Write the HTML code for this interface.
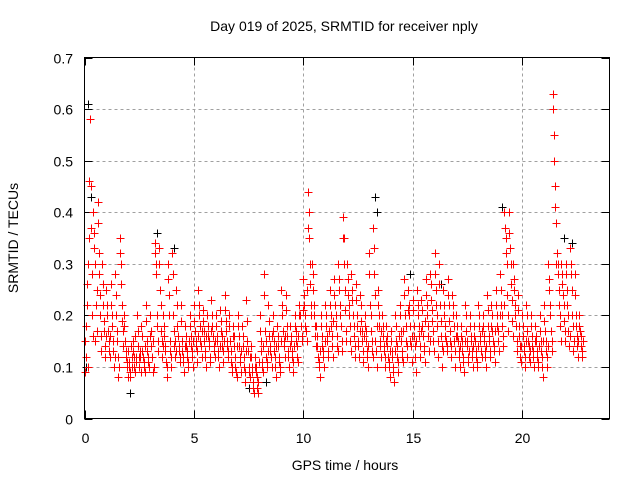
<!DOCTYPE html>
<html><head><meta charset="utf-8"><style>
body{margin:0;background:#fff}
text{font-family:"Liberation Sans",sans-serif;font-size:14px;fill:#000}
</style></head><body>
<svg id="chart" width="640" height="480" xmlns="http://www.w3.org/2000/svg">
<rect width="640" height="480" fill="#fff"/>
<text x="344" y="31" text-anchor="middle">Day 019 of 2025, SRMTID for receiver nply</text>
<text x="345" y="470" text-anchor="middle">GPS time / hours</text>
<text transform="translate(18,238) rotate(-90)" text-anchor="middle">SRMTID / TECUs</text>
<g id="grid"></g>
<g id="ticks"></g>
<g id="black"></g>
<g id="red"></g>
<rect x="84.5" y="57.5" width="525" height="361" fill="none" stroke="#000"/>
</svg>
<script>
const xTicks=[0,5,10,15,20];
const yTicks=[0,0.1,0.2,0.3,0.4,0.5,0.6,0.7];
const yTickLabels=["0","0.1","0.2","0.3","0.4","0.5","0.6","0.7"];
const binStarts=[0,0.2,0.4,0.6,0.8,1,1.2,1.4,1.6,1.8,2,2.2,2.4,2.6,2.8,3,3.2,3.4,3.6,3.8,4,4.2,4.4,4.6,4.8,5,5.2,5.4,5.6,5.8,6,6.2,6.4,6.6,6.8,7,7.2,7.4,7.6,7.8,8,8.2,8.4,8.6,8.8,9,9.2,9.4,9.6,9.8,10,10.2,10.4,10.6,10.8,11,11.2,11.4,11.6,11.8,12,12.2,12.4,12.6,12.8,13,13.2,13.4,13.6,13.8,14,14.2,14.4,14.6,14.8,15,15.2,15.4,15.6,15.8,16,16.2,16.4,16.6,16.8,17,17.2,17.4,17.6,17.8,18,18.2,18.4,18.6,18.8,19,19.2,19.4,19.6,19.8,20,20.2,20.4,20.6,20.8,21,21.2,21.4,21.6,21.8,22,22.2,22.4,22.6];
const redValues=[
[.09,.12,.22,.3],[.35,.58,.45,.2],[.4,.33,.15,.25],[.38,.28,.2,.13],[.3,.22,.17,.14],
[.25,.2,.15,.12],[.22,.18,.13,.1],[.28,.2,.15,.08],[.35,.3,.22,.17],[.2,.15,.12,.1],
[.13,.1,.08,.12],[.15,.12,.09,.11],[.2,.14,.1,.12],[.18,.13,.11,.09],[.22,.15,.12,.1],
[.2,.14,.12,.09],[.34,.3,.2,.13],[.33,.25,.17,.12],[.2,.16,.13,.08],[.3,.24,.15,.1],
[.32,.2,.14,.12],[.25,.18,.13,.11],[.22,.15,.12,.09],[.18,.14,.12,.1],[.2,.16,.13,.1],
[.22,.17,.14,.11],[.25,.2,.15,.12],[.21,.17,.13,.1],[.2,.16,.14,.11],[.23,.18,.14,.12],
[.2,.16,.13,.1],[.21,.17,.14,.11],[.24,.19,.15,.12],[.2,.15,.11,.09],[.18,.14,.1,.08],
[.2,.16,.12,.09],[.18,.14,.1,.07],[.23,.15,.1,.08],[.14,.1,.07,.05],[.12,.09,.06,.05],
[.2,.15,.11,.09],[.28,.17,.12,.1],[.22,.16,.13,.1],[.2,.15,.12,.08],[.18,.14,.11,.09],
[.25,.2,.15,.12],[.24,.18,.13,.1],[.18,.15,.12,.09],[.2,.17,.14,.11],[.22,.2,.18,.15],
[.27,.22,.18,.15],[.44,.4,.3,.22],[.3,.25,.2,.16],[.18,.14,.11,.08],[.2,.16,.13,.1],
[.22,.18,.15,.12],[.25,.2,.16,.12],[.27,.22,.18,.14],[.3,.25,.2,.15],[.39,.35,.25,.17],
[.3,.24,.2,.15],[.28,.23,.18,.12],[.26,.2,.15,.12],[.24,.19,.15,.11],[.2,.17,.13,.1],
[.32,.22,.17,.13],[.37,.28,.15,.1],[.25,.2,.15,.12],[.2,.16,.13,.1],[.18,.14,.11,.08],
[.17,.13,.1,.07],[.2,.15,.12,.09],[.22,.17,.13,.11],[.27,.2,.15,.12],[.25,.2,.15,.11],
[.23,.18,.14,.09],[.25,.2,.16,.12],[.23,.18,.14,.11],[.27,.22,.18,.13],[.28,.23,.19,.15],
[.32,.25,.2,.12],[.3,.22,.16,.1],[.25,.2,.16,.13],[.27,.22,.17,.12],[.24,.2,.15,.1],
[.2,.16,.13,.1],[.18,.15,.12,.09],[.22,.17,.14,.11],[.2,.16,.13,.1],[.18,.15,.12,.1],
[.22,.18,.15,.12],[.2,.16,.13,.1],[.24,.18,.15,.12],[.22,.17,.14,.11],[.25,.2,.17,.13],
[.28,.22,.18,.14],[.4,.35,.3,.2],[.4,.33,.26,.19],[.3,.25,.2,.15],[.24,.18,.14,.11],
[.2,.16,.13,.1],[.22,.17,.14,.11],[.2,.16,.13,.1],[.18,.15,.12,.1],[.2,.15,.12,.08],
[.22,.17,.13,.1],[.3,.25,.2,.15],[.63,.55,.45,.38],[.32,.28,.22,.18],[.3,.26,.22,.17],
[.3,.25,.2,.14],[.33,.28,.2,.13],[.28,.2,.16,.12],[.2,.17,.14,.12]];
const redValues2=[
[.15,.18,.26,.1],[.46,.37,.28,.16],[.36,.3,.22,.17],[.42,.32,.24,.16],[.26,.19,.12,.16],
[.22,.17,.13,.16],[.26,.2,.15,.12],[.24,.17,.12,.1],[.32,.26,.19,.14],[.18,.13,.11,.08],
[.11,.09,.14,.1],[.13,.1,.16,.12],[.17,.12,.13,.09],[.16,.12,.1,.14],[.19,.13,.11,.16],
[.17,.12,.15,.1],[.32,.28,.18,.15],[.3,.22,.15,.14],[.18,.14,.11,.1],[.27,.2,.13,.12],
[.28,.17,.15,.13],[.22,.16,.14,.12],[.19,.13,.11,.14],[.16,.13,.11,.15],[.18,.14,.12,.15],
[.19,.15,.13,.16],[.22,.18,.14,.17],[.19,.15,.12,.16],[.18,.15,.12,.17],[.2,.16,.13,.15],
[.18,.15,.12,.14],[.19,.16,.13,.15],[.21,.17,.14,.13],[.18,.13,.1,.16],[.16,.12,.09,.14],
[.18,.14,.11,.13],[.16,.12,.09,.13],[.19,.13,.09,.12],[.12,.09,.06,.1],[.1,.08,.07,.11],
[.17,.13,.1,.14],[.24,.15,.11,.13],[.19,.14,.12,.16],[.17,.13,.1,.14],[.16,.12,.1,.15],
[.22,.17,.14,.16],[.21,.16,.12,.14],[.16,.13,.11,.14],[.18,.15,.12,.16],[.2,.18,.16,.21],
[.24,.2,.17,.25],[.37,.35,.26,.2],[.28,.22,.18,.14],[.16,.12,.1,.13],[.18,.14,.12,.15],
[.2,.16,.13,.17],[.22,.18,.14,.19],[.24,.2,.16,.13],[.27,.22,.18,.13],[.35,.3,.21,.15],
[.27,.22,.18,.13],[.25,.2,.16,.14],[.23,.18,.14,.17],[.22,.17,.13,.16],[.18,.15,.12,.14],
[.28,.2,.15,.12],[.33,.24,.13,.18],[.22,.18,.14,.17],[.18,.14,.12,.15],[.16,.12,.1,.13],
[.15,.12,.09,.13],[.18,.14,.11,.16],[.2,.15,.12,.17],[.24,.18,.14,.21],[.22,.18,.14,.16],
[.21,.16,.12,.15],[.22,.18,.14,.17],[.21,.16,.13,.19],[.24,.2,.16,.15],[.26,.21,.17,.13],
[.28,.22,.18,.15],[.26,.19,.14,.13],[.22,.18,.15,.14],[.24,.19,.15,.14],[.22,.18,.13,.16],
[.18,.15,.12,.14],[.16,.13,.11,.15],[.2,.15,.12,.13],[.18,.15,.12,.14],[.16,.13,.11,.14],
[.2,.16,.13,.17],[.18,.15,.12,.14],[.21,.16,.13,.18],[.2,.15,.13,.17],[.22,.18,.15,.2],
[.25,.2,.16,.22],[.37,.32,.24,.17],[.36,.3,.23,.16],[.27,.22,.18,.13],[.21,.16,.12,.14],
[.18,.14,.12,.15],[.2,.15,.12,.13],[.18,.14,.12,.15],[.16,.13,.11,.14],[.17,.13,.1,.15],
[.19,.15,.12,.14],[.27,.22,.17,.13],[.6,.5,.41,.3],[.3,.25,.2,.15],[.28,.24,.19,.15],
[.28,.22,.17,.16],[.3,.25,.18,.15],[.24,.18,.14,.15],[.18,.16,.13,.15]];
const blackTimes=[0.15,0.3,2.1,3.3,4.1,7.5,10.2,13.3,13.35,14.9,16.3,19.1,21.9,22.3,0.05,8.3];
const blackValues=[0.61,0.43,0.05,0.36,0.33,0.06,0.37,0.43,0.40,0.28,0.26,0.41,0.35,0.34,0.1,0.07];
const X0=84.5,X1=609.5,Y0=418.5,Y1=57.5,XMAX=24,YMAX=0.7;
const sx=v=>X0+v/XMAX*(X1-X0);
const sy=v=>Y0-v/YMAX*(Y0-Y1);
const NS="http://www.w3.org/2000/svg";
function mk(tag,attrs,parent){const e=document.createElementNS(NS,tag);for(const k in attrs)e.setAttribute(k,attrs[k]);parent.appendChild(e);return e;}
const grid=document.getElementById('grid'),ticks=document.getElementById('ticks');
yTicks.forEach((v,i)=>{const y=Math.round(sy(v))+0.5;
 if(v>0&&v<YMAX){const g=mk('line',{x1:X0,x2:X1,y1:y,y2:y,stroke:'#a0a0a0','stroke-dasharray':'3,3'},grid);
 
 }
 mk('line',{x1:X0,x2:X0+8,y1:y,y2:y,stroke:'#000'},ticks);
 mk('line',{x1:X1-8,x2:X1,y1:y,y2:y,stroke:'#000'},ticks);
 const t=mk('text',{x:73,y:y+5,'text-anchor':'end'},ticks);t.textContent=yTickLabels[i];
 
 });
xTicks.forEach(v=>{const x=Math.round(sx(v))+0.5;
 if(v>0){const g=mk('line',{x1:x,x2:x,y1:Y0,y2:Y1,stroke:'#a0a0a0','stroke-dasharray':'3,3'},grid);
 
 }
 mk('line',{x1:x,x2:x,y1:Y0,y2:Y0-8,stroke:'#000'},ticks);
 mk('line',{x1:x,x2:x,y1:Y1,y2:Y1+8,stroke:'#000'},ticks);
 const t=mk('text',{x:x,y:443,'text-anchor':'middle'},ticks);t.textContent=String(v);
 
 });
function plus(t,v,col,parent,name){const x=Math.round(sx(t))+0.5,y=Math.round(sy(v))+0.5;
 const p=mk('path',{d:`M${x-4} ${y}h8M${x} ${y-4}v8`,stroke:col,'stroke-width':1,fill:'none'},parent);
 
 }
const bl=document.getElementById('black'),rd=document.getElementById('red');
blackTimes.forEach((t,i)=>plus(t,blackValues[i],'#000',bl,'black-point'));
binStarts.forEach((b,i)=>redValues[i].forEach((v,k)=>plus(b+k*0.05,v,'#ff0000',rd,'red-point')));
binStarts.forEach((b,i)=>redValues2[i].forEach((v,k)=>plus(b+0.025+k*0.05,v,'#ff0000',rd,'red-point')));
</script>
</body></html>
